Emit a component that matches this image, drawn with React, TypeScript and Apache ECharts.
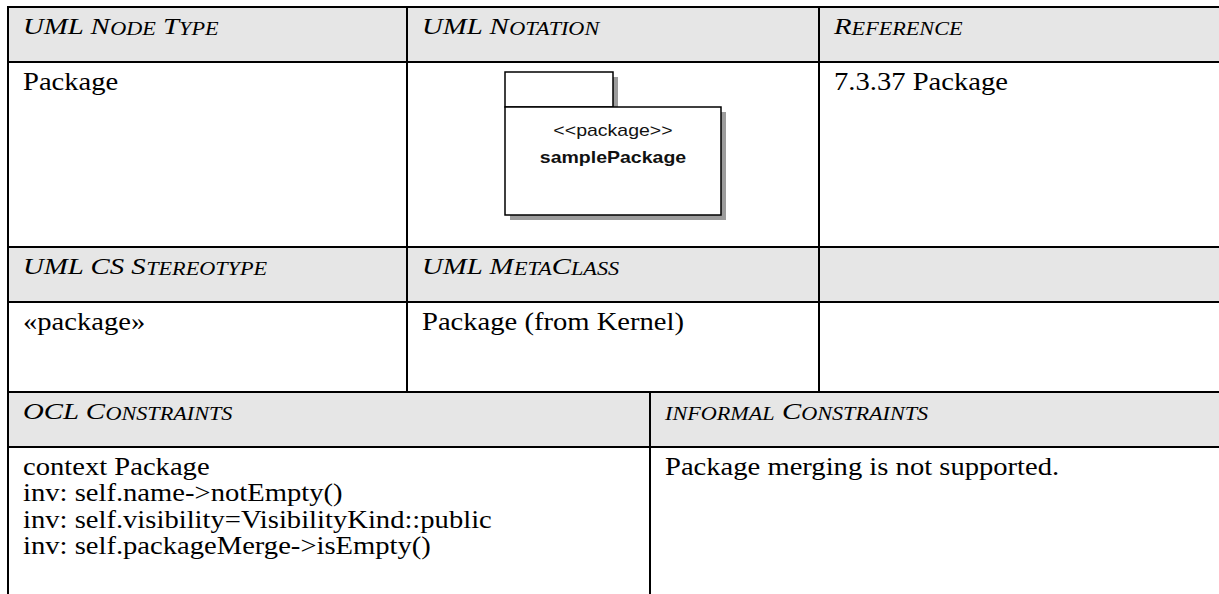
import React, { useEffect, useRef } from "react";
import * as echarts from "echarts";

// ---- content (texts) ----
const headerRow1 = ["UML Node Type", "UML Notation", "Reference"];
const bodyRow1 = ["Package", "", "7.3.37 Package"];
const headerRow2 = ["UML CS Stereotype", "UML MetaClass", ""];
const bodyRow2 = ["«package»", "Package (from Kernel)", ""];
const headerRow3 = ["OCL Constraints", "informal Constraints"];
const oclLines = [
  "context Package",
  "inv: self.name->notEmpty()",
  "inv: self.visibility=VisibilityKind::public",
  "inv: self.packageMerge->isEmpty()",
];
const informalLines = ["Package merging is not supported."];
const notationStereotype = "<<package>>";
const notationName = "samplePackage";

// ---- layout ----
const W = 1219;
const H = 594;
const COLS_TOP = [8, 407, 819];
const COLS_BOTTOM = [8, 650];
const ROW_LINES = [7, 62, 247, 302, 392, 447];
const HEAD_SX = 1.2;
const BODY_SX = 1.1;
const BODY_FS = 26;
const SERIF = '"Liberation Serif", "Times New Roman", serif';
const SANS = '"Liberation Sans", Arial, sans-serif';
const HEADER_BG = "#e6e6e6";
const LINE_W = 2;
const PAD = 15;
const LINE_STEP = 26.5;

function smallCaps(s: string): string {
  let out = "";
  let cur = "";
  let mode = "";
  for (const ch of s) {
    const m = ch >= "a" && ch <= "z" ? "sm" : "big";
    const c = ch.toUpperCase();
    if (m !== mode) {
      if (cur) out += `{${mode}|${cur}}`;
      cur = c;
      mode = m;
    } else cur += c;
  }
  if (cur) out += `{${mode}|${cur}}`;
  return out;
}

function headerText(label: string, x: number, rowTop: number) {
  return {
    type: "text",
    x: x + PAD,
    y: rowTop + 7,
    scaleX: HEAD_SX,
    silent: true,
    style: {
      text: smallCaps(label),
      align: "left",
      verticalAlign: "top",
      rich: {
        big: {
          fontSize: 24,
          fontFamily: SERIF,
          fontStyle: "italic",
          lineHeight: 24,
          verticalAlign: "bottom",
          fill: "#000",
        },
        sm: {
          fontSize: 18.5,
          fontFamily: SERIF,
          fontStyle: "italic",
          lineHeight: 20,
          verticalAlign: "bottom",
          fill: "#000",
        },
      },
    },
  };
}

function bodyText(text: string, x: number, yMid: number) {
  return {
    type: "text",
    x: x + PAD,
    y: yMid,
    scaleX: BODY_SX,
    silent: true,
    style: {
      text,
      fill: "#000",
      fontSize: BODY_FS,
      fontFamily: SERIF,
      align: "left",
      verticalAlign: "middle",
    },
  };
}

function hLine(y: number) {
  return {
    type: "line",
    shape: { x1: COLS_TOP[0] - 1, y1: y, x2: W, y2: y },
    style: { stroke: "#000", lineWidth: LINE_W },
  };
}

function vLine(x: number, y1: number, y2: number) {
  return {
    type: "line",
    shape: { x1: x, y1, x2: x, y2 },
    style: { stroke: "#000", lineWidth: LINE_W },
  };
}

function buildGraphic() {
  const g: any[] = [];
  // header backgrounds
  [0, 2, 4].forEach((i) => {
    g.push({
      type: "rect",
      shape: { x: COLS_TOP[0], y: ROW_LINES[i], width: W - COLS_TOP[0], height: ROW_LINES[i + 1] - ROW_LINES[i] },
      style: { fill: HEADER_BG },
    });
  });
  // package notation figure
  const fx = 505, fy = 72, tabW = 108, tabH = 35, bodyW = 216, bodyH = 108, sh = 5;
  g.push({ type: "rect", shape: { x: fx + sh, y: fy + sh, width: tabW, height: tabH }, style: { fill: "#9c9c9c" } });
  g.push({ type: "rect", shape: { x: fx + sh, y: fy + tabH + sh, width: bodyW, height: bodyH }, style: { fill: "#9c9c9c" } });
  g.push({ type: "rect", shape: { x: fx, y: fy, width: tabW, height: tabH }, style: { fill: "#fff", stroke: "#000", lineWidth: 1.5 } });
  g.push({ type: "rect", shape: { x: fx, y: fy + tabH, width: bodyW, height: bodyH }, style: { fill: "#fff", stroke: "#000", lineWidth: 1.5 } });
  g.push({
    type: "text", x: fx + bodyW / 2, y: 131, scaleX: 1.22,
    style: { text: notationStereotype, fill: "#111", fontSize: 16, fontFamily: SANS, align: "center", verticalAlign: "middle" },
  });
  g.push({
    type: "text", x: fx + bodyW / 2, y: 158, scaleX: 1.22,
    style: { text: notationName, fill: "#111", fontSize: 16, fontWeight: "bold", fontFamily: SANS, align: "center", verticalAlign: "middle" },
  });

  // lines
  ROW_LINES.forEach((y) => g.push(hLine(y)));
  g.push(vLine(COLS_TOP[0], ROW_LINES[0] - 1, H));
  COLS_TOP.slice(1).forEach((x) => g.push(vLine(x, ROW_LINES[0], ROW_LINES[4])));
  COLS_BOTTOM.slice(1).forEach((x) => g.push(vLine(x, ROW_LINES[4], H)));

  // texts
  const bodyOff = 19;
  headerRow1.forEach((t, i) => t && g.push(headerText(t, COLS_TOP[i], ROW_LINES[0])));
  bodyRow1.forEach((t, i) => t && g.push(bodyText(t, COLS_TOP[i], ROW_LINES[1] + bodyOff)));
  headerRow2.forEach((t, i) => t && g.push(headerText(t, COLS_TOP[i], ROW_LINES[2])));
  bodyRow2.forEach((t, i) => t && g.push(bodyText(t, COLS_TOP[i], ROW_LINES[3] + bodyOff)));
  headerRow3.forEach((t, i) => t && g.push(headerText(t, COLS_BOTTOM[i], ROW_LINES[4])));
  oclLines.forEach((t, j) => g.push(bodyText(t, COLS_BOTTOM[0], ROW_LINES[5] + bodyOff + j * LINE_STEP)));
  informalLines.forEach((t, j) => g.push(bodyText(t, COLS_BOTTOM[1], ROW_LINES[5] + bodyOff + j * LINE_STEP)));
  return g;
}

export default function App() {
  const ref = useRef<HTMLDivElement>(null);
  useEffect(() => {
    if (!ref.current) return;
    const chart = echarts.init(ref.current, undefined, { renderer: "svg", width: W, height: H });
    chart.setOption({
      animation: false,
      backgroundColor: "#fff",
      graphic: { elements: buildGraphic() },
    });
    return () => chart.dispose();
  }, []);
  return (
    <div
      ref={ref}
      style={{ position: "fixed", left: 0, top: 0, width: W, height: H, background: "#fff" }}
    />
  );
}
